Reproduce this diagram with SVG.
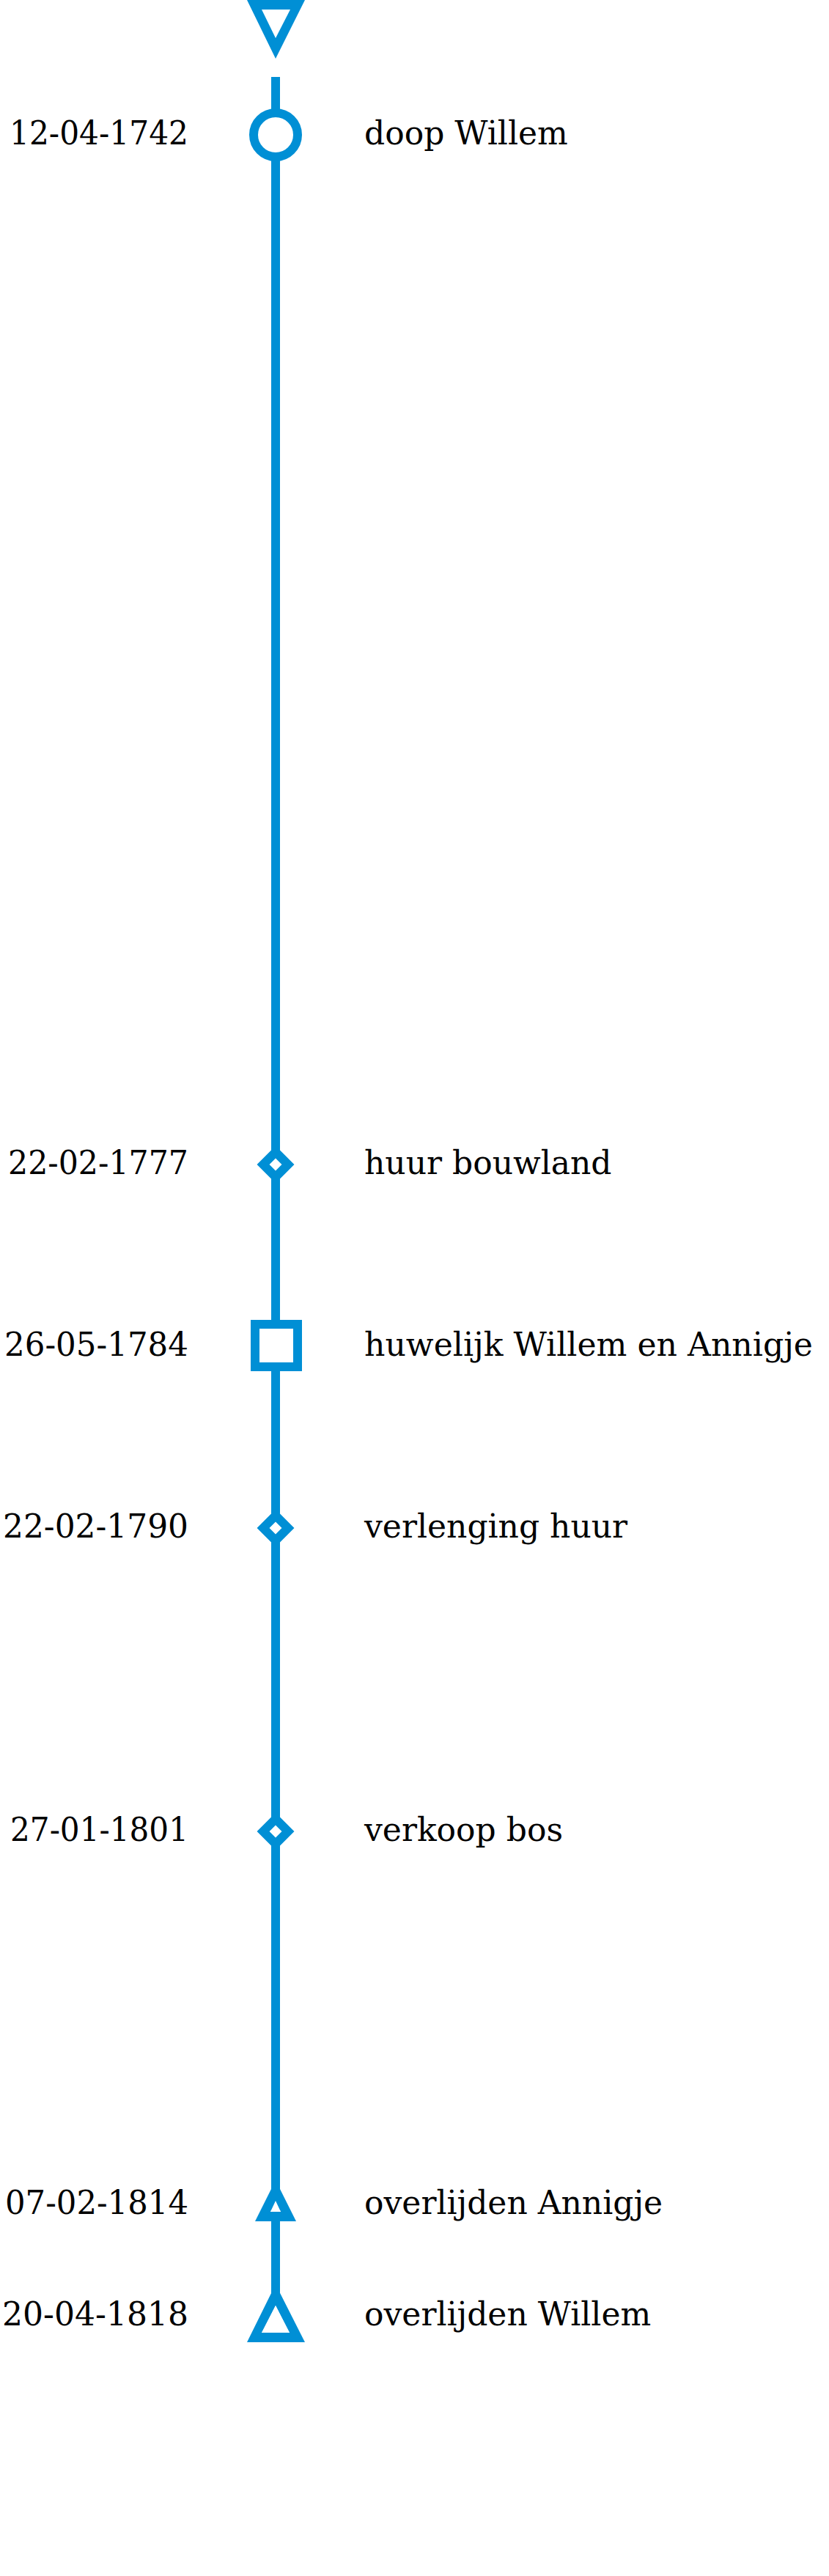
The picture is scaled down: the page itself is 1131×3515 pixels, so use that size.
<svg xmlns="http://www.w3.org/2000/svg" width="1131" height="3515" viewBox="0 0 1131 3515">
<style>
.mk{fill:#008fd5;fill-rule:evenodd;stroke:none}
.sh{fill:#ffffff;stroke:#008fd5;stroke-width:12}
.ln{stroke:#008fd5;stroke-width:12;fill:none}
.dt{font-family:"DejaVu Serif","Liberation Serif",serif;font-size:44px;fill:#000;text-anchor:end}
.lb{font-family:"DejaVu Serif","Liberation Serif",serif;font-size:44px;fill:#000}
</style>
<rect width="1131" height="3515" fill="#ffffff"/>
<g id="connectors">
<line class="ln" x1="376" y1="105" x2="376" y2="3130"/>
</g>
<g id="start">
<path class="mk" d="M337,0 L416,0 L376,80 Z M357,13 L376,52 L396,13 Z"/>
</g>
<g id="e1742">
<circle class="sh" cx="376" cy="184" r="30" stroke-width="13"/>
<text class="dt" x="257" y="197" textLength="244" lengthAdjust="spacingAndGlyphs">12-04-1742</text>
<text class="lb" x="497" y="197">doop Willem</text>
</g>
<g id="e1777">
<rect class="sh" x="364" y="1577" width="24" height="24" transform="rotate(45 376 1589)"/>
<text class="dt" x="257" y="1602" textLength="246" lengthAdjust="spacingAndGlyphs">22-02-1777</text>
<text class="lb" x="497" y="1602">huur bouwland</text>
</g>
<g id="e1784">
<rect class="sh" x="348" y="1807" width="58" height="58"/>
<text class="dt" x="257" y="1850" textLength="251" lengthAdjust="spacingAndGlyphs">26-05-1784</text>
<text class="lb" x="497" y="1850" textLength="612" lengthAdjust="spacingAndGlyphs">huwelijk Willem en Annigje</text>
</g>
<g id="e1790">
<rect class="sh" x="364" y="2073" width="24" height="24" transform="rotate(45 376 2085)"/>
<text class="dt" x="257" y="2098" textLength="253" lengthAdjust="spacingAndGlyphs">22-02-1790</text>
<text class="lb" x="497" y="2098">verlenging huur</text>
</g>
<g id="e1801">
<rect class="sh" x="364" y="2487" width="24" height="24" transform="rotate(45 376 2499)"/>
<text class="dt" x="257" y="2512" textLength="243" lengthAdjust="spacingAndGlyphs">27-01-1801</text>
<text class="lb" x="497" y="2512">verkoop bos</text>
</g>
<g id="e1814">
<path class="mk" d="M376,2975 L404,3031 L348,3031 Z M376,3003 L369,3018 L383,3018 Z"/>
<path d="M376,3003 L383,3018 L369,3018 Z" fill="#ffffff"/>
<text class="dt" x="257" y="3021" textLength="250" lengthAdjust="spacingAndGlyphs">07-02-1814</text>
<text class="lb" x="497" y="3021">overlijden Annigje</text>
</g>
<g id="e1818">
<path class="mk" d="M376,3117 L416,3196 L337,3196 Z M376,3146 L357,3183 L395,3183 Z"/>
<path d="M376,3146 L395,3183 L357,3183 Z" fill="#ffffff"/>
<text class="dt" x="257" y="3173" textLength="254" lengthAdjust="spacingAndGlyphs">20-04-1818</text>
<text class="lb" x="497" y="3173">overlijden Willem</text>
</g>
</svg>
